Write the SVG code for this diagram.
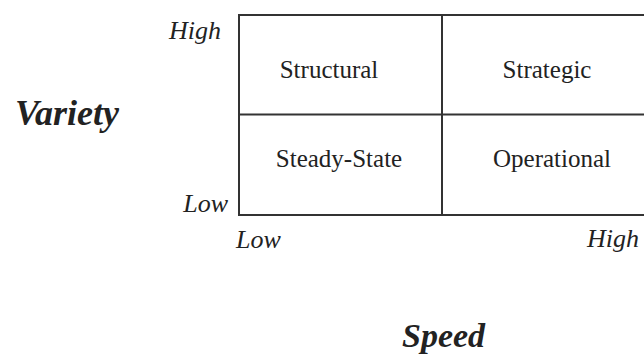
<svg xmlns="http://www.w3.org/2000/svg" width="644" height="354" viewBox="0 0 644 354">
<style>
.ln{stroke:#333;stroke-width:2;fill:none}
.cell{font-family:"Liberation Serif",serif;font-size:25px;fill:#222;text-anchor:middle}
.ax{font-family:"Liberation Serif",serif;font-size:26px;font-style:italic;fill:#222}
.title{font-family:"Liberation Serif",serif;font-style:italic;font-weight:bold;fill:#222}
</style>
<g id="grid">
<line class="ln" x1="239" y1="15" x2="644" y2="15"/>
<line class="ln" x1="239" y1="114.5" x2="644" y2="114.5"/>
<line class="ln" x1="239" y1="215" x2="644" y2="215"/>
<line class="ln" x1="239" y1="14" x2="239" y2="216"/>
<line class="ln" x1="442" y1="14" x2="442" y2="216"/>
</g>
<g id="structural"><text class="cell" x="329" y="78">Structural</text></g>
<g id="strategic"><text class="cell" x="547" y="78">Strategic</text></g>
<g id="steady-state"><text class="cell" x="339" y="167">Steady-State</text></g>
<g id="operational"><text class="cell" x="552" y="167">Operational</text></g>
<g id="axes">
<text class="ax" x="221" y="39" text-anchor="end">High</text>
<text class="ax" x="228" y="212" text-anchor="end">Low</text>
<text class="ax" x="236" y="248">Low</text>
<text class="ax" x="587" y="247">High</text>
<text class="title" x="15" y="125" font-size="36">Variety</text>
<text class="title" x="402" y="347" font-size="34">Speed</text>
</g>
</svg>
